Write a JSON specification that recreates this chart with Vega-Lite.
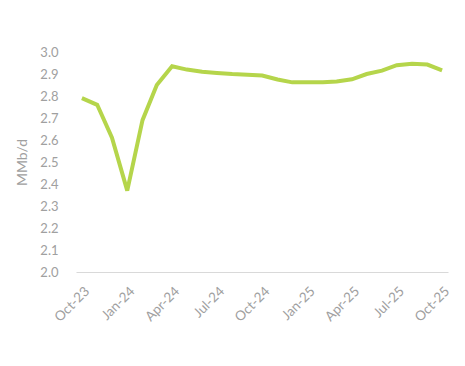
{
  "$schema": "https://vega.github.io/schema/vega-lite/v6.json",
  "width": 372,
  "height": 220,
  "autosize": "none",
  "padding": {"left": 76, "top": 52, "right": 17, "bottom": 94},
  "background": "white",
  "config": {"view": {"stroke": null}},
  "data": {"values": [
      {"date": "2023-10-01", "value": 2.79},
      {"date": "2023-11-01", "value": 2.76},
      {"date": "2023-12-01", "value": 2.61},
      {"date": "2024-01-01", "value": 2.37},
      {"date": "2024-02-01", "value": 2.69},
      {"date": "2024-03-01", "value": 2.85},
      {"date": "2024-04-01", "value": 2.935},
      {"date": "2024-05-01", "value": 2.92},
      {"date": "2024-06-01", "value": 2.91},
      {"date": "2024-07-01", "value": 2.905},
      {"date": "2024-08-01", "value": 2.9},
      {"date": "2024-09-01", "value": 2.897},
      {"date": "2024-10-01", "value": 2.893},
      {"date": "2024-11-01", "value": 2.875},
      {"date": "2024-12-01", "value": 2.862},
      {"date": "2025-01-01", "value": 2.862},
      {"date": "2025-02-01", "value": 2.862},
      {"date": "2025-03-01", "value": 2.866},
      {"date": "2025-04-01", "value": 2.876},
      {"date": "2025-05-01", "value": 2.9},
      {"date": "2025-06-01", "value": 2.915},
      {"date": "2025-07-01", "value": 2.94},
      {"date": "2025-08-01", "value": 2.947},
      {"date": "2025-09-01", "value": 2.943},
      {"date": "2025-10-01", "value": 2.917}
  ]},
  "mark": {"type": "line", "strokeWidth": 4, "color": "#b5d54b"},
  "encoding": {
    "x": {
      "field": "date", "type": "temporal",
      "scale": {"domain": ["2023-09-19", "2025-10-13"]},
      "axis": {
        "title": null, "format": "%b-%y", "formatType": "time", "labelAngle": -45,
        "values": ["2023-10-01", "2024-01-01", "2024-04-01", "2024-07-01", "2024-10-01", "2025-01-01", "2025-04-01", "2025-07-01", "2025-10-01"],
        "grid": false, "ticks": false, "domainColor": "#d9d9d9",
        "labelColor": "#a0a0a0", "labelFont": "Lato", "labelFontSize": 13.5, "labelPadding": 12
      }
    },
    "y": {
      "field": "value", "type": "quantitative",
      "scale": {"domain": [2.0, 3.0], "zero": false},
      "axis": {
        "title": "MMb/d", "titleColor": "#a0a0a0", "titleFont": "Lato", "titleFontSize": 14, "titleFontWeight": "normal", "titlePadding": 10,
        "values": [2.0, 2.1, 2.2, 2.3, 2.4, 2.5, 2.6, 2.7, 2.8, 2.9, 3.0], "format": ".1f",
        "grid": false, "ticks": false, "domain": false,
        "labelColor": "#a0a0a0", "labelFont": "Lato", "labelFontSize": 13, "labelPadding": 18
      }
    }
  }
}
